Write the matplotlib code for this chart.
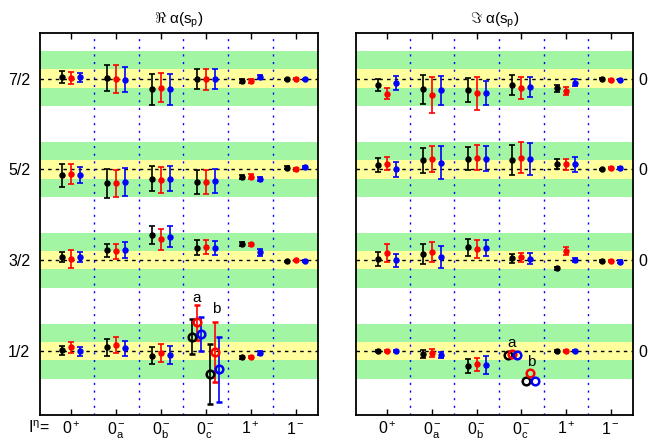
import numpy as np
import matplotlib
matplotlib.use("Agg")
from matplotlib import pyplot as plt

plt.rcParams['font.family'] = ['Liberation Sans', 'DejaVu Sans']
plt.rcParams['mathtext.fontset'] = 'custom'
plt.rcParams['mathtext.rm'] = 'Liberation Sans'
plt.rcParams['mathtext.it'] = 'Liberation Sans:italic'

# categories (I^eta) and spins
categories = [r'$\mathregular{0^+}$', r'$\mathregular{0^-_a}$', r'$\mathregular{0^-_b}$',
              r'$\mathregular{0^-_c}$', r'$\mathregular{1^+}$', r'$\mathregular{1^-}$']
spins = [0.5, 1.5, 2.5, 3.5]
spin_labels = ['1/2', '3/2', '5/2', '7/2']
colors = ['black', 'red', 'blue']
nan = np.nan

# Re alpha(s_p): rows = categories, columns = black / red / blue
re_val_1_2 = [[0.511, 0.544, 0.500], [0.544, 0.566, 0.533], [0.452, 0.482, 0.460],
              [nan, nan, nan], [0.434, 0.434, 0.482], [nan, nan, nan]]
re_err_1_2 = [[0.047, 0.057, 0.050], [0.090, 0.088, 0.086], [0.093, 0.100, 0.097],
              [nan, nan, nan], [0.015, 0.012, 0.020], [nan, nan, nan]]
re_val_3_2 = [[1.537, 1.511, 1.537], [1.610, 1.600, 1.614], [1.775, 1.730, 1.760],
              [1.640, 1.647, 1.636], [1.680, 1.676, 1.590], [1.490, 1.500, 1.493]]
re_err_3_2 = [[0.050, 0.100, 0.060], [0.070, 0.080, 0.090], [0.100, 0.120, 0.115],
              [0.080, 0.077, 0.080], [0.020, 0.018, 0.037], [0.008, 0.008, 0.008]]
re_val_5_2 = [[2.434, 2.445, 2.438], [2.346, 2.346, 2.360], [2.400, 2.383, 2.400],
              [2.360, 2.360, 2.370], [2.420, 2.420, 2.394], [2.520, 2.500, 2.526]]
re_err_5_2 = [[0.125, 0.110, 0.090], [0.160, 0.150, 0.155], [0.140, 0.140, 0.140],
              [0.130, 0.130, 0.130], [0.020, 0.025, 0.020], [0.020, 0.015, 0.015]]
re_val_7_2 = [[3.518, 3.507, 3.515], [3.507, 3.496, 3.489], [3.380, 3.400, 3.380],
              [3.500, 3.490, 3.500], [3.470, 3.470, 3.520], [3.490, 3.500, 3.490]]
re_err_7_2 = [[0.070, 0.065, 0.050], [0.140, 0.150, 0.140], [0.170, 0.160, 0.170],
              [0.110, 0.120, 0.110], [0.020, 0.020, 0.022], [0.010, 0.010, 0.010]]
# 0^-_c, J=1/2, solutions a and b
re_a_val = [0.661, 0.819, 0.690]
re_a_err = [0.195, 0.190, 0.190]
re_b_val = [0.251, 0.489, 0.302]
re_b_err = [0.330, 0.330, 0.360]

# Im alpha(s_p)
im_val_1_2 = [[0.500, 0.500, 0.500], [0.470, 0.485, 0.460], [0.339, 0.357, 0.346],
              [nan, nan, nan], [0.500, 0.500, 0.500], [nan, nan, nan]]
im_err_1_2 = [[0.010, 0.010, 0.010], [0.040, 0.044, 0.033], [0.077, 0.075, 0.100],
              [nan, nan, nan], [0.010, 0.010, 0.010], [nan, nan, nan]]
im_val_3_2 = [[1.515, 1.580, 1.500], [1.573, 1.592, 1.540], [1.643, 1.628, 1.635],
              [1.522, 1.533, 1.518], [1.412, 1.600, 1.504], [1.493, 1.489, 1.485]]
im_err_3_2 = [[0.075, 0.095, 0.070], [0.110, 0.115, 0.120], [0.090, 0.097, 0.092],
              [0.050, 0.050, 0.060], [0.020, 0.044, 0.018], [0.010, 0.010, 0.018]]
im_val_5_2 = [[2.548, 2.562, 2.500], [2.600, 2.614, 2.573], [2.620, 2.630, 2.620],
              [2.600, 2.628, 2.614], [2.562, 2.555, 2.555], [2.500, 2.518, 2.515]]
im_err_5_2 = [[0.077, 0.070, 0.084], [0.140, 0.140, 0.180], [0.130, 0.140, 0.140],
              [0.165, 0.170, 0.175], [0.055, 0.056, 0.080], [0.010, 0.010, 0.010]]
im_val_7_2 = [[3.430, 3.332, 3.452], [3.383, 3.320, 3.372], [3.372, 3.339, 3.343],
              [3.430, 3.400, 3.412], [3.394, 3.361, 3.456], [3.500, 3.485, 3.489]]
im_err_7_2 = [[0.067, 0.060, 0.077], [0.160, 0.200, 0.160], [0.130, 0.180, 0.130],
              [0.110, 0.120, 0.110], [0.040, 0.044, 0.037], [0.010, 0.010, 0.010]]
im_a_val = [0.460, 0.470, 0.460]
im_a_err = [0.0, 0.0, 0.0]
im_b_val = [0.178, 0.266, 0.178]
im_b_err = [0.0, 0.0, 0.0]

re_vals = [re_val_1_2, re_val_3_2, re_val_5_2, re_val_7_2]
re_errs = [re_err_1_2, re_err_3_2, re_err_5_2, re_err_7_2]
im_vals = [im_val_1_2, im_val_3_2, im_val_5_2, im_val_7_2]
im_errs = [im_err_1_2, im_err_3_2, im_err_5_2, im_err_7_2]

offsets = [-0.2, 0.0, 0.2]
a_offsets = [-0.3, -0.2, -0.1]
b_offsets = [0.1, 0.2, 0.3]

fig = plt.figure(figsize=(6.5, 4.41), dpi=100)
ax1 = fig.add_axes([0.0615, 0.059, 0.4277, 0.866])
ax2 = fig.add_axes([0.5477, 0.059, 0.4262, 0.866])

x = np.arange(1, len(categories) + 1)

def draw_panel(ax, vals, errs, a_val, a_err, b_val, b_err, ab_pos):
    for J in spins:
        ax.axhspan(J - 0.3, J + 0.3, color='#a2f5a2', lw=0, zorder=0)
        ax.axhspan(J - 0.1, J + 0.1, color='#ffff9e', lw=0, zorder=0.5)
        ax.axhline(J, color='black', lw=1.0, dashes=(2.5, 3), zorder=1)
    for xv in x[:-1] + 0.5:
        ax.axvline(xv, color='blue', lw=1.0, dashes=(1.5, 4), zorder=1)
    for v, e in zip(vals, errs):
        v = np.array(v)
        e = np.array(e)
        for k in range(3):
            ax.errorbar(x + offsets[k], v[:, k], yerr=e[:, k], fmt='o', color=colors[k],
                        ms=3.6, elinewidth=1.2, capsize=2.5, capthick=1.2, zorder=3)
    xc = x[3]
    for k in range(3):
        for off, vv, ee in [(a_offsets[k], a_val[k], a_err[k]), (b_offsets[k], b_val[k], b_err[k])]:
            ax.errorbar(xc + off, vv, yerr=ee if ee > 0 else None, fmt='o', color=colors[k],
                        mfc='none', mew=1.8, ms=5.5, elinewidth=1.2, capsize=2.5,
                        capthick=1.2, zorder=4)
    ax.text(xc + ab_pos[0][0], ab_pos[0][1], 'a', fontsize=11, ha='center', va='center')
    ax.text(xc + ab_pos[1][0], ab_pos[1][1], 'b', fontsize=11, ha='center', va='center')
    ax.set_xlim(0.3, 6.5)
    ax.set_ylim(-0.2, 4.0)
    ax.set_xticks(x)
    ax.set_xticklabels(categories, fontsize=11.5)
    ax.tick_params(axis='x', direction='in', top=True, length=4, width=1, pad=4)
    ax.set_yticks(spins)
    ax.tick_params(axis='y', length=0, labelsize=11.5, pad=7)
    for s in ax.spines.values():
        s.set_linewidth(1.3)

draw_panel(ax1, re_vals, re_errs, re_a_val, re_a_err, re_b_val, re_b_err,
           [(-0.2, 1.09), (0.22, 0.97)])
ax1.set_yticklabels(spin_labels)
ax1.set_title(r'$\Re$ α($\mathregular{s_p}$)', fontsize=11, pad=7)
ax1.text(-0.043, -0.034, r'$\mathregular{I^{\eta}}$=', transform=ax1.transAxes,
         fontsize=11.5, ha='left', va='center')

draw_panel(ax2, im_vals, im_errs, im_a_val, im_a_err, im_b_val, im_b_err,
           [(-0.22, 0.588), (0.23, 0.383)])
ax2.yaxis.tick_right()
ax2.set_yticklabels(['0'] * 4)
ax2.tick_params(axis='y', pad=4)
ax2.set_title(r'$\Im$ α($\mathregular{s_p}$)', fontsize=11, pad=7)

fig.savefig('out.png', dpi=100)
